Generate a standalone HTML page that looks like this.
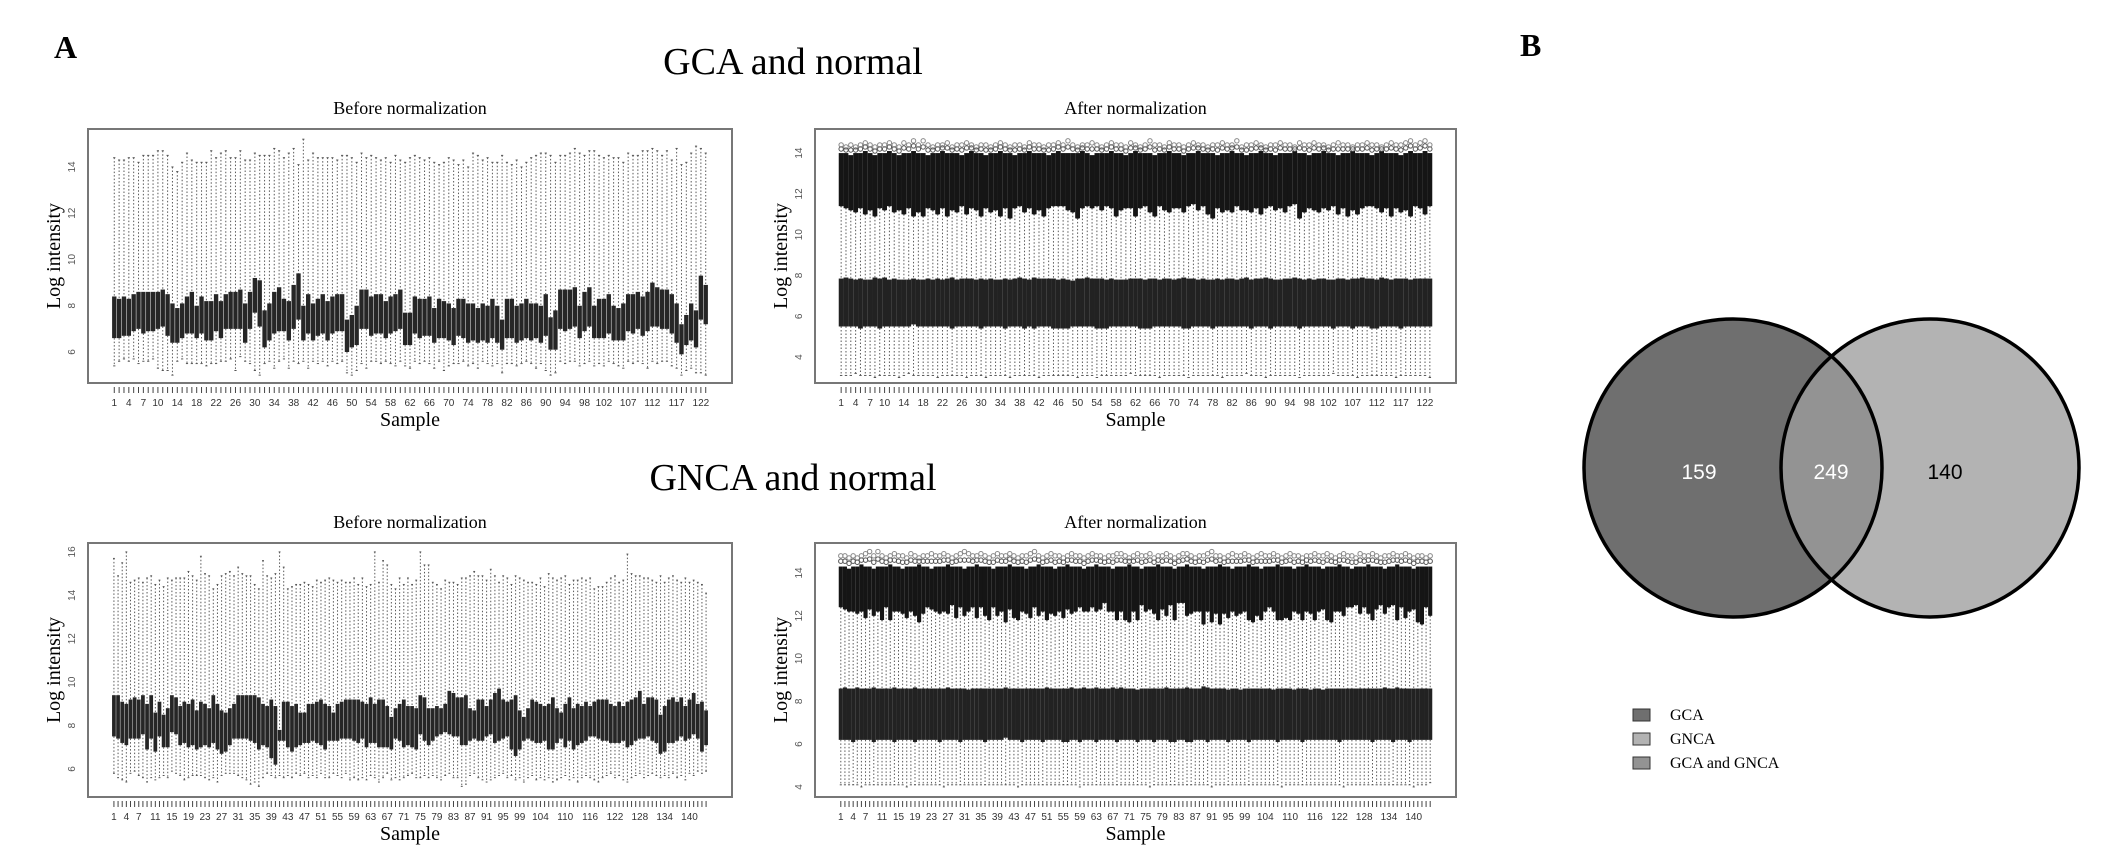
<!DOCTYPE html>
<html><head><meta charset="utf-8"><style>
html,body{margin:0;padding:0;background:#fff;}
svg{display:block;}
text{font-family:"Liberation Serif",serif;}
</style></head><body>
<svg id="fig" width="2126" height="854" viewBox="0 0 2126 854" xmlns="http://www.w3.org/2000/svg">
<text x="54" y="58" font-size="32" font-weight="bold">A</text>
<text x="1520" y="56" font-size="32" font-weight="bold">B</text>
<text x="793" y="74" font-size="38" text-anchor="middle">GCA and normal</text>
<text x="793" y="490" font-size="38" text-anchor="middle">GNCA and normal</text>
<g id="p1"></g>
<g id="p2"></g>
<g id="p3"></g>
<g id="p4"></g>
<g id="venn">
<defs><clipPath id="clipL"><circle cx="1733" cy="468" r="149"/></clipPath></defs>
<circle cx="1733" cy="468" r="149" fill="#6f6f6f"/>
<circle cx="1930" cy="468" r="149" fill="#b3b3b3"/>
<circle cx="1930" cy="468" r="149" fill="#939393" clip-path="url(#clipL)"/>
<circle cx="1733" cy="468" r="149" fill="none" stroke="#000" stroke-width="3.5"/>
<circle cx="1930" cy="468" r="149" fill="none" stroke="#000" stroke-width="3.5"/>
<text x="1699" y="479" font-size="21" fill="#fff" text-anchor="middle" style="font-family:'Liberation Sans',sans-serif">159</text>
<text x="1831" y="479" font-size="21" fill="#fff" text-anchor="middle" style="font-family:'Liberation Sans',sans-serif">249</text>
<text x="1945" y="479" font-size="21" fill="#000" text-anchor="middle" style="font-family:'Liberation Sans',sans-serif">140</text>
</g>
<g id="legend">
<rect x="1633" y="709" width="17" height="12" fill="#6f6f6f" stroke="#333"/>
<text x="1670" y="720" font-size="16">GCA</text>
<rect x="1633" y="733" width="17" height="12" fill="#b3b3b3" stroke="#333"/>
<text x="1670" y="744" font-size="16">GNCA</text>
<rect x="1633" y="757" width="17" height="12" fill="#939393" stroke="#333"/>
<text x="1670" y="768" font-size="16">GCA and GNCA</text>
</g>
</svg>
<script>
const parse = s => s.trim().split(/\s+/).map(Number);

// ---------- GCA before normalization (123 samples)
const gcaBeforeQ3 = parse(`
8.4 8.3 8.4 8.3 8.5 8.6 8.6 8.6 8.6 8.6
8.7 8.5 8.1 7.9 8.1 8.4 8.6 8.0 8.4 8.2
8.2 8.5 8.2 8.5 8.6 8.6 8.7 8.1 8.6 9.2
9.1 7.8 8.1 8.6 8.8 8.3 8.2 8.9 9.4 8.0
8.5 8.1 8.3 8.5 8.2 8.4 8.5 8.5 7.4 7.6
8.0 8.7 8.7 8.4 8.5 8.5 8.2 8.4 8.5 8.7
7.7 7.7 8.4 8.3 8.3 8.4 7.9 8.3 8.2 8.1
7.9 8.3 8.3 8.1 8.1 7.9 8.1 8.0 8.3 8.0
7.4 8.3 8.3 8.0 8.1 8.3 8.1 8.1 8.0 8.5
7.5 7.8 8.7 8.7 8.7 8.8 8.0 8.6 8.8 8.0
8.3 8.3 8.5 8.0 7.9 8.1 8.5 8.5 8.6 8.4
8.6 9.0 8.8 8.7 8.7 8.5 8.1 7.2 7.6 8.1
7.8 9.3 8.9`);
const gcaBeforeQ1 = parse(`
6.6 6.6 6.7 6.7 6.9 7.0 6.8 6.9 6.9 7.0
7.1 6.7 6.4 6.4 6.6 6.8 6.8 6.6 6.8 6.5
6.5 6.9 6.6 7.0 7.0 7.0 7.0 6.4 7.0 7.7
7.1 6.2 6.5 6.8 6.9 6.9 6.5 7.0 7.4 6.5
6.8 6.5 6.7 6.8 6.5 6.8 6.9 6.9 6.0 6.2
6.3 7.0 7.0 6.7 6.8 6.8 6.6 6.8 6.9 7.0
6.3 6.3 6.8 6.6 6.7 6.7 6.4 6.6 6.6 6.5
6.3 6.7 6.6 6.4 6.5 6.4 6.5 6.4 6.6 6.4
6.1 6.6 6.6 6.4 6.5 6.6 6.5 6.6 6.4 6.7
6.1 6.1 7.0 6.9 7.0 7.1 6.6 6.9 7.1 6.6
6.6 6.6 6.8 6.5 6.5 6.5 6.9 6.8 7.0 6.7
6.9 7.1 7.1 7.0 7.0 6.8 6.4 5.9 6.3 6.5
6.2 7.4 7.2`);
const gcaBeforeHi = parse(`
14.4 14.3 14.3 14.4 14.4 14.2 14.5 14.5 14.5 14.7
14.7 14.5 14.0 13.8 14.2 14.6 14.3 14.2 14.2 14.2
14.7 14.4 14.6 14.7 14.4 14.4 14.7 14.3 14.3 14.6
14.5 14.5 14.5 14.8 14.7 14.4 14.6 14.8 14.1 15.2
14.3 14.6 14.4 14.4 14.4 14.4 14.3 14.5 14.5 14.4
14.2 14.6 14.4 14.5 14.4 14.3 14.4 14.2 14.5 14.3
14.2 14.4 14.5 14.4 14.3 14.4 14.2 14.1 14.2 14.4
14.3 14.1 14.3 14.0 14.6 14.5 14.3 14.4 14.2 14.2
14.5 14.2 14.1 14.3 14.0 14.2 14.4 14.5 14.6 14.6
14.5 14.2 14.5 14.5 14.6 14.8 14.6 14.5 14.7 14.7
14.5 14.4 14.5 14.4 14.4 14.2 14.6 14.5 14.5 14.7
14.7 14.8 14.7 14.5 14.7 14.3 14.8 14.1 14.2 14.6
14.9 14.8 14.6`);
const gcaBeforeLo = parse(`
5.4 5.6 5.7 5.6 5.7 5.5 5.6 5.6 5.7 5.3
5.2 5.2 5.0 5.6 5.7 5.5 5.5 5.5 5.5 5.4
5.5 5.5 5.6 5.6 5.7 5.2 5.8 5.6 5.5 5.2
5.0 5.5 5.6 5.3 5.6 5.7 5.3 5.6 5.5 5.6
5.3 5.6 5.5 5.6 5.4 5.6 5.5 5.6 5.1 5.0
5.2 5.5 5.3 5.6 5.6 5.5 5.6 5.5 5.4 5.6
5.4 5.3 5.6 5.5 5.6 5.5 5.3 5.6 5.2 5.4
5.5 5.5 5.6 5.4 5.5 5.3 5.6 5.5 5.4 5.5
5.1 5.5 5.5 5.4 5.5 5.6 5.5 5.3 5.5 5.2
5.0 5.1 5.6 5.5 5.6 5.6 5.4 5.5 5.6 5.4
5.5 5.4 5.6 5.5 5.4 5.3 5.6 5.5 5.6 5.5
5.3 5.6 5.5 5.6 5.6 5.4 5.3 5.0 5.2 5.3
5.1 5.1 5.0`);

// ---------- GCA after normalization (123 samples)
const gcaAfterQ1 = parse(`
5.5 5.5 5.5 5.5 5.4 5.5 5.5 5.5 5.4 5.5
5.5 5.5 5.5 5.5 5.5 5.6 5.5 5.5 5.5 5.5
5.5 5.5 5.5 5.4 5.5 5.5 5.5 5.5 5.5 5.4
5.5 5.5 5.5 5.5 5.4 5.5 5.5 5.5 5.4 5.5
5.4 5.5 5.5 5.5 5.4 5.4 5.4 5.4 5.5 5.5
5.5 5.5 5.5 5.4 5.4 5.4 5.5 5.5 5.5 5.5
5.5 5.5 5.4 5.4 5.4 5.5 5.5 5.5 5.5 5.5
5.5 5.4 5.4 5.5 5.5 5.5 5.5 5.4 5.5 5.5
5.5 5.5 5.5 5.5 5.5 5.4 5.5 5.5 5.5 5.4
5.5 5.5 5.5 5.5 5.5 5.4 5.5 5.5 5.5 5.5
5.5 5.5 5.4 5.5 5.5 5.5 5.4 5.5 5.5 5.5
5.4 5.4 5.5 5.5 5.5 5.5 5.4 5.5 5.5 5.5
5.5 5.5 5.5`);
const gcaAfterQ3 = parse(`
7.85 7.9 7.85 7.8 7.85 7.8 7.8 7.9 7.85 7.9
7.8 7.85 7.8 7.8 7.8 7.85 7.8 7.8 7.85 7.8
7.85 7.8 7.85 7.9 7.8 7.85 7.85 7.85 7.8 7.85
7.8 7.85 7.8 7.8 7.85 7.8 7.85 7.9 7.85 7.8
7.9 7.85 7.85 7.85 7.85 7.8 7.85 7.8 7.75 7.85
7.85 7.9 7.85 7.85 7.85 7.8 7.85 7.8 7.8 7.8
7.85 7.85 7.85 7.8 7.85 7.85 7.8 7.85 7.85 7.8
7.85 7.9 7.85 7.85 7.8 7.85 7.8 7.8 7.85 7.8
7.85 7.85 7.8 7.85 7.9 7.8 7.85 7.85 7.9 7.85
7.8 7.8 7.85 7.85 7.9 7.85 7.8 7.85 7.8 7.85
7.85 7.8 7.8 7.85 7.85 7.8 7.85 7.85 7.9 7.85
7.85 7.8 7.9 7.85 7.8 7.85 7.85 7.85 7.8 7.85
7.85 7.85 7.85`);
const gcaAfterLo = parse(`
3.1 3.1 3.1 3.2 3.1 3.1 3.1 3.0 3.1 3.1
3.1 3.1 3.0 3.1 3.2 3.1 3.1 3.1 3.1 3.1
3.0 3.1 3.1 3.1 3.1 3.1 3.0 3.1 3.1 3.1
3.0 3.1 3.1 3.1 3.1 3.0 3.1 3.1 3.1 3.1
3.1 3.0 3.1 3.1 3.1 3.1 3.1 3.1 3.1 3.0
3.1 3.1 3.1 3.0 3.1 3.1 3.1 3.1 3.1 3.1
3.2 3.1 3.1 3.1 3.1 3.1 3.0 3.1 3.1 3.1
3.1 3.1 3.0 3.1 3.1 3.1 3.1 3.1 3.1 3.0
3.1 3.1 3.1 3.1 3.2 3.1 3.1 3.1 3.0 3.1
3.1 3.1 3.1 3.1 3.1 3.0 3.1 3.1 3.1 3.1
3.1 3.1 3.2 3.1 3.1 3.1 3.1 3.0 3.1 3.1
3.1 3.1 3.1 3.1 3.1 3.0 3.1 3.1 3.1 3.1
3.1 3.1 3.0`);
const gcaAfterHi = parse(`
11.4 11.3 11.2 11.1 11.3 11.0 11.2 10.9 11.3 11.2
11.4 11.1 11.2 11.0 11.3 10.9 11.1 10.9 11.3 11.2
11.0 11.3 10.9 11.2 11.1 11.4 11.0 11.3 11.2 10.9
11.3 11.1 11.2 10.9 11.3 10.8 11.3 11.4 11.1 11.3
11.0 11.2 10.9 11.3 11.4 11.4 11.4 11.2 11.1 10.8
11.3 11.4 11.3 11.4 11.2 11.4 11.3 10.9 11.2 11.3
11.3 10.9 11.3 11.4 11.1 10.9 11.4 11.2 11.1 11.3
11.3 11.1 11.4 11.5 11.2 11.4 11.0 10.8 11.3 11.1
11.2 11.1 11.4 11.2 11.2 11.1 11.3 11.0 11.3 11.4
11.2 11.3 11.1 11.4 11.5 10.8 11.1 11.3 11.2 11.1
11.3 11.2 11.4 11.0 11.3 10.9 11.2 11.0 11.3 11.4
11.4 11.3 11.1 11.3 10.9 11.3 11.1 11.2 10.9 11.4
11.3 11.0 11.4`);
const gcaAfterOutTop = parse(`
14.0 14.0 13.9 14.0 14.0 14.1 14.0 13.9 14.0 14.0
14.1 14.0 13.9 14.0 14.0 14.1 14.0 14.0 13.9 14.0
14.0 14.1 14.0 14.0 14.0 13.9 14.0 14.1 14.0 14.0
13.9 14.0 14.0 14.1 14.0 14.0 13.9 14.0 14.0 14.1
14.0 14.0 14.0 13.9 14.0 14.1 14.0 14.0 14.0 14.0
14.1 14.0 13.9 14.0 14.0 14.0 14.1 14.0 14.0 13.9
14.0 14.1 14.0 14.0 14.0 13.9 14.0 14.0 14.1 14.0
14.0 13.9 14.0 14.0 14.1 14.0 14.0 14.0 13.9 14.0
14.0 14.1 14.0 14.0 13.9 14.0 14.0 14.1 14.0 14.0
13.9 14.0 14.0 14.0 14.1 14.0 14.0 13.9 14.0 14.0
14.1 14.0 14.0 13.9 14.0 14.0 14.1 14.0 14.0 14.0
13.9 14.0 14.1 14.0 14.0 14.0 13.9 14.0 14.1 14.0
14.0 14.1 14.0`);
const gcaAfterOutMax = parse(`
14.4 14.3 14.4 14.3 14.4 14.5 14.4 14.3 14.4 14.4
14.5 14.4 14.3 14.5 14.4 14.6 14.4 14.6 14.4 14.3
14.4 14.4 14.5 14.3 14.4 14.4 14.5 14.4 14.3 14.4
14.4 14.3 14.4 14.5 14.4 14.3 14.4 14.4 14.3 14.5
14.4 14.4 14.3 14.4 14.4 14.5 14.4 14.6 14.4 14.3
14.4 14.4 14.5 14.4 14.3 14.4 14.5 14.4 14.4 14.3
14.5 14.4 14.3 14.4 14.6 14.4 14.4 14.3 14.5 14.4
14.4 14.3 14.4 14.5 14.4 14.4 14.3 14.4 14.4 14.5
14.4 14.4 14.6 14.3 14.4 14.4 14.5 14.4 14.3 14.4
14.4 14.5 14.4 14.4 14.3 14.5 14.4 14.4 14.5 14.4
14.4 14.3 14.4 14.5 14.4 14.4 14.3 14.4 14.4 14.5
14.4 14.4 14.3 14.4 14.5 14.4 14.4 14.5 14.6 14.4
14.5 14.6 14.4`);

// ---------- GNCA before normalization (144 samples)
const gncaBeforeQ3 = parse(`
9.4 9.4 9.1 9.0 9.2 9.3 9.2 9.4 9.0 9.4 8.6 9.1
8.5 8.8 9.4 9.3 8.9 9.1 9.0 9.2 8.7 9.1 9.0 8.8
9.4 9.0 8.7 8.6 8.8 9.0 9.4 9.4 9.4 9.4 9.4 9.3
9.0 8.9 9.2 8.9 7.8 9.1 9.1 8.9 9.0 8.6 8.6 9.0
9.0 9.1 9.2 9.0 8.9 8.6 9.0 9.1 9.2 9.2 9.2 9.2
9.1 9.0 9.3 9.0 9.2 9.2 8.9 8.4 8.8 9.0 9.2 8.9
8.9 8.8 9.4 9.3 8.8 8.8 8.9 8.8 9.0 9.6 9.5 9.3
9.3 9.4 8.8 8.7 9.2 9.2 8.9 9.2 9.5 9.7 9.2 9.1
9.2 9.4 8.7 8.4 8.8 9.2 9.1 9.0 8.9 9.0 9.3 8.8
8.6 9.0 9.3 8.8 9.0 8.9 9.1 8.9 9.1 9.2 9.2 9.2
9.0 8.9 9.1 8.9 9.1 9.2 9.3 9.6 9.0 9.3 9.3 9.2
8.5 8.9 9.2 9.3 9.1 9.3 8.9 9.2 9.5 9.0 9.1 8.7`);
const gncaBeforeQ1 = parse(`
7.5 7.4 7.2 7.1 7.4 7.4 7.4 7.6 6.9 7.4 6.8 7.5
7.0 7.0 7.7 7.6 7.1 7.2 7.0 7.1 6.9 7.0 7.1 7.0
7.2 6.9 6.7 6.8 7.1 7.4 7.4 7.4 7.4 7.3 7.2 6.9
7.1 7.0 6.5 6.2 7.3 7.3 7.0 6.8 7.0 7.1 7.2 7.2
7.3 7.2 7.1 6.9 7.3 7.3 7.3 7.4 7.4 7.4 7.3 7.2
7.4 7.0 7.2 7.2 7.0 7.0 7.0 6.9 7.4 7.3 7.0 7.1
7.0 6.9 7.6 7.3 7.1 7.3 7.5 7.6 7.7 7.6 7.5 7.5
7.1 7.1 7.3 7.4 7.3 7.3 7.5 7.6 7.2 7.3 7.4 7.5
6.9 6.6 6.9 7.3 7.4 7.3 7.2 7.2 7.3 6.9 6.9 7.2
7.4 7.0 7.3 6.9 7.1 7.2 7.3 7.5 7.5 7.4 7.3 7.3
7.2 7.2 7.2 7.3 7.0 7.1 7.3 7.4 7.4 7.5 7.3 7.2
6.7 6.8 7.2 7.2 7.3 7.5 7.3 7.4 7.6 7.4 6.8 7.1`);
const gncaBeforeHi = parse(`
15.7 14.9 15.5 16.0 14.6 14.7 14.8 14.6 14.8 14.9 14.5 14.7
14.4 14.8 14.7 14.8 14.8 14.8 15.1 14.9 14.7 15.8 15.0 14.9
14.3 14.5 14.9 15.0 15.1 14.9 15.3 15.0 14.9 14.9 14.5 14.3
15.6 14.9 14.8 15.0 16.0 15.3 14.3 14.4 14.5 14.5 14.6 14.5
14.4 14.7 14.6 14.7 14.8 14.7 14.6 14.7 14.6 14.6 14.8 14.5
14.8 14.4 14.5 16.0 14.6 15.6 15.4 14.5 14.3 14.8 14.5 14.8
14.5 14.7 16.0 15.4 15.4 14.6 14.5 14.3 14.7 14.6 14.6 14.5
14.8 14.8 14.9 15.1 14.9 14.9 14.7 15.2 14.9 14.6 14.9 14.8
14.5 14.9 14.8 14.7 14.6 14.6 14.5 14.8 14.4 15.0 14.8 14.7
14.8 14.9 14.5 14.7 14.7 14.8 14.7 14.8 14.3 14.4 14.4 14.6
14.8 14.9 14.6 14.7 15.9 15.0 14.9 14.9 14.8 14.8 14.7 14.6
14.9 14.6 14.8 14.9 14.7 14.6 14.8 14.6 14.7 14.6 14.5 14.1`);
const gncaBeforeLo = parse(`
5.8 5.6 5.5 5.4 5.8 5.9 5.7 5.6 5.4 5.6 5.5 5.6
5.7 5.6 5.9 5.8 5.7 5.5 5.6 5.7 5.7 5.7 5.6 5.5
5.6 5.4 5.7 5.8 5.8 5.8 5.7 5.6 5.5 5.3 5.4 5.2
5.6 5.8 5.7 5.6 5.7 5.6 5.7 5.6 5.8 5.7 5.8 5.6
5.7 5.6 5.8 5.6 5.6 5.8 5.7 5.6 5.8 5.5 5.6 5.5
5.6 5.5 5.7 5.6 5.4 5.6 5.8 5.5 5.6 5.5 5.6 5.7
5.8 5.6 5.6 5.7 5.6 5.7 5.6 5.5 5.7 5.8 5.6 5.6
5.2 5.3 5.7 5.8 5.6 5.5 5.4 5.5 5.6 5.7 5.8 5.6
5.7 5.5 5.6 5.4 5.6 5.7 5.5 5.6 5.5 5.6 5.4 5.5
5.6 5.7 5.5 5.6 5.4 5.6 5.7 5.6 5.5 5.4 5.6 5.7
5.8 5.6 5.7 5.5 5.4 5.6 5.7 5.8 5.6 5.7 5.8 5.7
5.6 5.7 5.6 5.8 5.6 5.7 5.5 5.8 5.7 5.9 5.8 5.9`);

// ---------- GNCA after normalization (144 samples)
const gncaAfterQ1 = parse(`
6.2 6.2 6.2 6.1 6.2 6.2 6.2 6.2 6.1 6.2 6.2 6.2
6.2 6.1 6.2 6.2 6.2 6.2 6.1 6.2 6.2 6.2 6.2 6.2
6.1 6.2 6.2 6.2 6.2 6.1 6.2 6.2 6.2 6.2 6.2 6.1
6.2 6.2 6.2 6.2 6.3 6.2 6.2 6.2 6.1 6.2 6.2 6.2
6.2 6.1 6.2 6.2 6.2 6.2 6.1 6.1 6.2 6.2 6.1 6.2
6.2 6.2 6.1 6.2 6.2 6.2 6.2 6.1 6.2 6.2 6.2 6.2
6.1 6.2 6.2 6.2 6.1 6.2 6.2 6.2 6.1 6.1 6.2 6.2
6.1 6.1 6.2 6.2 6.2 6.1 6.2 6.2 6.2 6.2 6.1 6.2
6.2 6.2 6.2 6.1 6.2 6.2 6.2 6.2 6.2 6.2 6.1 6.2
6.2 6.2 6.2 6.2 6.1 6.2 6.2 6.2 6.2 6.2 6.2 6.2
6.2 6.1 6.2 6.2 6.2 6.2 6.2 6.2 6.2 6.1 6.2 6.2
6.2 6.2 6.1 6.2 6.2 6.2 6.1 6.2 6.2 6.2 6.2 6.2`);
const gncaAfterQ3 = parse(`
8.6 8.65 8.6 8.6 8.65 8.6 8.6 8.6 8.65 8.6 8.6 8.6
8.6 8.65 8.6 8.6 8.6 8.6 8.65 8.6 8.6 8.6 8.6 8.6
8.6 8.6 8.65 8.6 8.6 8.6 8.6 8.55 8.6 8.6 8.6 8.6
8.6 8.6 8.6 8.6 8.65 8.6 8.6 8.6 8.6 8.6 8.6 8.6
8.6 8.6 8.65 8.6 8.6 8.6 8.6 8.6 8.65 8.6 8.6 8.65
8.6 8.6 8.65 8.6 8.6 8.6 8.65 8.6 8.65 8.6 8.6 8.6
8.55 8.6 8.6 8.6 8.6 8.6 8.6 8.65 8.6 8.6 8.6 8.6
8.65 8.6 8.6 8.6 8.7 8.65 8.6 8.6 8.6 8.6 8.55 8.6
8.6 8.55 8.6 8.6 8.6 8.6 8.6 8.6 8.6 8.55 8.6 8.6
8.6 8.6 8.55 8.6 8.6 8.6 8.55 8.6 8.6 8.55 8.6 8.6
8.6 8.6 8.6 8.6 8.6 8.6 8.6 8.6 8.6 8.6 8.6 8.6
8.65 8.6 8.6 8.65 8.6 8.6 8.6 8.6 8.6 8.6 8.6 8.6`);
const gncaAfterLo = parse(`
4.1 4.1 4.1 4.1 4.1 4.0 4.1 4.1 4.1 4.1 4.1 4.1
4.1 4.1 4.1 4.1 4.0 4.1 4.1 4.1 4.1 4.1 4.1 4.1
4.1 4.0 4.1 4.1 4.1 4.1 4.1 4.1 4.1 4.1 4.1 4.1
4.1 4.1 4.1 4.1 4.1 4.1 4.1 4.0 4.1 4.1 4.1 4.1
4.1 4.1 4.1 4.1 4.1 4.1 4.1 4.1 4.1 4.1 4.0 4.1
4.1 4.1 4.1 4.1 4.1 4.1 4.1 4.1 4.1 4.1 4.1 4.1
4.1 4.1 4.1 4.0 4.1 4.1 4.1 4.1 4.1 4.1 4.1 4.1
4.1 4.1 4.1 4.1 4.1 4.1 4.0 4.1 4.1 4.1 4.1 4.1
4.1 4.1 4.1 4.1 4.1 4.1 4.1 4.1 4.1 4.1 4.1 4.0
4.1 4.1 4.1 4.1 4.1 4.1 4.1 4.1 4.1 4.1 4.1 4.1
4.1 4.1 4.0 4.1 4.1 4.1 4.1 4.1 4.1 4.1 4.1 4.1
4.1 4.1 4.1 4.1 4.1 4.1 4.1 4.0 4.1 4.1 4.1 4.2`);
const gncaAfterHi = parse(`
12.4 12.3 12.2 12.2 12.1 12.2 11.9 12.3 12.0 12.2 11.8 12.4
11.8 12.2 12.2 12.1 11.9 12.2 12.0 11.7 12.1 12.4 12.3 12.2
12.1 12.2 12.1 12.5 11.9 12.4 12.0 12.2 12.4 11.9 12.4 12.0
11.8 12.4 12.0 12.2 11.7 12.3 11.9 11.8 12.2 12.1 11.9 12.4
12.0 12.2 11.8 12.1 12.0 12.2 11.9 12.3 12.1 12.2 12.4 12.2
12.2 12.4 12.2 12.3 12.6 12.2 12.2 11.8 12.2 11.8 11.7 12.2
11.8 12.5 12.2 12.3 12.1 11.8 12.3 12.0 12.5 11.8 12.6 12.6
12.0 12.1 12.2 12.2 11.6 12.2 11.7 12.1 11.6 12.1 11.9 12.2
12.0 12.1 12.2 11.8 11.7 12.0 11.8 12.2 12.4 12.2 11.8 11.8
11.9 11.8 12.2 12.1 11.8 12.2 12.1 11.8 12.2 12.3 11.8 11.7
12.2 12.2 12.0 12.4 12.4 12.5 12.1 12.4 12.1 11.8 12.3 12.5
12.1 12.4 12.5 11.8 12.4 11.9 12.2 12.3 11.7 11.6 12.4 12.0`);
const gncaAfterOutTop = parse(`
14.3 14.3 14.2 14.3 14.3 14.4 14.3 14.3 14.2 14.3 14.3 14.3
14.4 14.3 14.3 14.2 14.3 14.3 14.3 14.4 14.3 14.3 14.2 14.3
14.3 14.3 14.4 14.3 14.3 14.3 14.2 14.3 14.3 14.4 14.3 14.3
14.3 14.2 14.3 14.3 14.3 14.4 14.3 14.3 14.3 14.2 14.3 14.3
14.4 14.3 14.3 14.3 14.2 14.3 14.3 14.4 14.3 14.3 14.3 14.2
14.3 14.3 14.4 14.3 14.3 14.3 14.2 14.3 14.3 14.3 14.4 14.3
14.3 14.2 14.3 14.3 14.3 14.4 14.3 14.3 14.3 14.2 14.3 14.3
14.4 14.3 14.3 14.3 14.2 14.3 14.3 14.3 14.4 14.3 14.3 14.2
14.3 14.3 14.3 14.4 14.3 14.3 14.2 14.3 14.3 14.3 14.4 14.3
14.3 14.3 14.2 14.3 14.3 14.4 14.3 14.3 14.3 14.2 14.3 14.3
14.3 14.4 14.3 14.3 14.2 14.3 14.3 14.3 14.4 14.3 14.3 14.3
14.2 14.3 14.3 14.4 14.3 14.3 14.3 14.2 14.3 14.3 14.3 14.3`);
const gncaAfterOutMax = parse(`
14.8 14.8 14.7 14.8 14.7 14.8 14.9 15.0 14.8 15.0 14.8 14.7
14.8 14.9 14.8 14.8 14.7 14.9 14.8 14.7 14.8 14.8 14.9 14.8
14.8 14.9 14.8 14.7 14.8 14.9 15.0 14.9 14.8 14.8 14.9 14.8
14.7 14.8 14.9 14.8 14.8 14.9 14.8 14.7 14.8 14.8 14.9 15.0
14.8 14.7 14.8 14.9 14.8 14.8 14.7 14.8 14.9 14.8 14.8 14.7
14.8 14.9 14.8 14.8 14.7 14.8 14.8 14.9 14.9 14.8 14.7 14.8
14.9 14.8 14.8 14.9 14.7 14.8 14.8 14.9 14.8 14.7 14.8 14.9
14.9 14.8 14.7 14.8 14.8 14.9 15.0 14.8 14.8 14.7 14.8 14.9
14.8 14.8 14.9 14.8 14.7 14.8 14.9 14.8 14.8 14.9 14.8 14.7
14.8 14.9 14.8 14.8 14.7 14.8 14.8 14.9 14.8 14.8 14.9 14.8
14.7 14.8 14.9 14.8 14.8 14.7 14.9 14.8 14.8 14.9 14.8 14.7
14.8 14.8 14.9 14.8 14.8 14.9 14.8 14.7 14.8 14.8 14.7 14.8`);

// tick labels
const gcaXLabels = [1,4,7,10,14,18,22,26,30,34,38,42,46,50,54,58,62,66,70,74,78,82,86,90,94,98,102,107,112,117,122];
const gncaXLabels = [1,4,7,11,15,19,23,27,31,35,39,43,47,51,55,59,63,67,71,75,79,83,87,91,95,99,104,110,116,122,128,134,140];
const ticksBeforeGca = [6,8,10,12,14];
const ticksAfter = [4,6,8,10,12,14];
const ticksBeforeGnca = [6,8,10,12,14,16];

const NS = 'http://www.w3.org/2000/svg';
function mk(tag, attrs, parent) {
  const e = document.createElementNS(NS, tag);
  for (const k in attrs) e.setAttribute(k, attrs[k]);
  parent.appendChild(e);
  return e;
}

function drawPanel(cfg) {
  const g = document.getElementById(cfg.id);
  const L = cfg.box[0], T = cfg.box[1], R = cfg.box[2], B = cfg.box[3];
  const n = Math.min(cfg.q1.length, cfg.q3.length, cfg.lo.length, cfg.hi.length);
  const u0 = 0.5 - 0.04 * n, u1 = n + 0.5 + 0.04 * n;
  const xs = i => L + (i - u0) / (u1 - u0) * (R - L);
  const ys = v => B - (v - cfg.yMin) / (cfg.yMax - cfg.yMin) * (B - T);
  const bw = cfg.wex * (R - L) / (u1 - u0);

  const t = mk('text', {x: (L + R) / 2, y: T - 15, 'font-size': 18, 'text-anchor': 'middle'}, g);
  t.textContent = cfg.title;
  
  

  for (let k = 0; k < n; k++) {
    const i = k + 1, x = xs(i);
    const bg = mk('g', {}, g);
    
    
    mk('line', {x1: x, x2: x, y1: ys(cfg.hi[k]), y2: ys(cfg.q3[k]), stroke: '#5a5a5a', 'stroke-width': 1, 'stroke-dasharray': '1.5 2'}, bg);
    mk('line', {x1: x, x2: x, y1: ys(cfg.q1[k]), y2: ys(cfg.lo[k]), stroke: '#5a5a5a', 'stroke-width': 1, 'stroke-dasharray': '1.5 2'}, bg);
    mk('line', {x1: x - bw / 4, x2: x + bw / 4, y1: ys(cfg.hi[k]), y2: ys(cfg.hi[k]), stroke: '#555', 'stroke-width': 1}, bg);
    mk('line', {x1: x - bw / 4, x2: x + bw / 4, y1: ys(cfg.lo[k]), y2: ys(cfg.lo[k]), stroke: '#555', 'stroke-width': 1}, bg);
    mk('rect', {x: x - bw / 2, y: ys(cfg.q3[k]), width: bw, height: ys(cfg.q1[k]) - ys(cfg.q3[k]), fill: cfg.fill}, bg);
    if (cfg.outTop) {
      mk('rect', {x: x - bw / 2, y: ys(cfg.outTop[k]), width: bw, height: ys(cfg.hi[k]) - ys(cfg.outTop[k]), fill: '#151515'}, bg);
      mk('circle', {cx: x, cy: ys(cfg.outMax[k]), r: 2.2, fill: 'none', stroke: '#888', 'stroke-width': 1}, bg);
      mk('circle', {cx: x, cy: ys((cfg.outMax[k] + cfg.outTop[k]) / 2), r: 2.2, fill: 'none', stroke: '#555', 'stroke-width': 1}, bg);
    }
    mk('line', {x1: x, x2: x, y1: B + 4, y2: B + 10, stroke: '#444', 'stroke-width': 1}, g);
  }
  const fr = mk('rect', {x: L, y: T, width: R - L, height: B - T, fill: 'none', stroke: '#777', 'stroke-width': 2}, g);
  
  
  cfg.yTicks.forEach(v => {
    const y = ys(v);
    const tl = mk('text', {x: 0, y: 0, 'font-size': 10, fill: '#555', 'text-anchor': 'middle', transform: `translate(${L - 13},${y}) rotate(-90)`, style: 'font-family:"Liberation Sans",sans-serif'}, g);
    tl.textContent = v;
    
    
  });
  cfg.xLabels.forEach(v => {
    const xl = mk('text', {x: xs(v), y: B + 23, 'font-size': 10, fill: '#333', 'text-anchor': 'middle', style: 'font-family:"Liberation Sans",sans-serif'}, g);
    xl.textContent = v;
    
    
  });
  const xt = mk('text', {x: (L + R) / 2, y: B + 43, 'font-size': 20, 'text-anchor': 'middle'}, g);
  xt.textContent = 'Sample';
  
  
  const yt = mk('text', {x: 0, y: 0, 'font-size': 20, 'text-anchor': 'middle', transform: `translate(${L - 28},${(T + B) / 2}) rotate(-90)`}, g);
  yt.textContent = 'Log intensity';
  
  
}

drawPanel({id: 'p1', title: 'Before normalization', box: [88, 129, 732, 383], yMin: 4.66, yMax: 15.64, wex: 0.9,
  q1: gcaBeforeQ1, q3: gcaBeforeQ3, lo: gcaBeforeLo, hi: gcaBeforeHi, fill: '#262626',
  yTicks: ticksBeforeGca, xLabels: gcaXLabels});
drawPanel({id: 'p2', title: 'After normalization', box: [815, 129, 1456, 383], yMin: 2.73, yMax: 15.18, wex: 1.0,
  q1: gcaAfterQ1, q3: gcaAfterQ3, lo: gcaAfterLo, hi: gcaAfterHi, outTop: gcaAfterOutTop, outMax: gcaAfterOutMax, fill: '#222',
  yTicks: ticksAfter, xLabels: gcaXLabels});
drawPanel({id: 'p3', title: 'Before normalization', box: [88, 543, 732, 797], yMin: 4.71, yMax: 16.41, wex: 0.9,
  q1: gncaBeforeQ1, q3: gncaBeforeQ3, lo: gncaBeforeLo, hi: gncaBeforeHi, fill: '#262626',
  yTicks: ticksBeforeGnca, xLabels: gncaXLabels});
drawPanel({id: 'p4', title: 'After normalization', box: [815, 543, 1456, 797], yMin: 3.53, yMax: 15.4, wex: 1.0,
  q1: gncaAfterQ1, q3: gncaAfterQ3, lo: gncaAfterLo, hi: gncaAfterHi, outTop: gncaAfterOutTop, outMax: gncaAfterOutMax, fill: '#222',
  yTicks: ticksAfter, xLabels: gncaXLabels});
</script>
</body></html>
